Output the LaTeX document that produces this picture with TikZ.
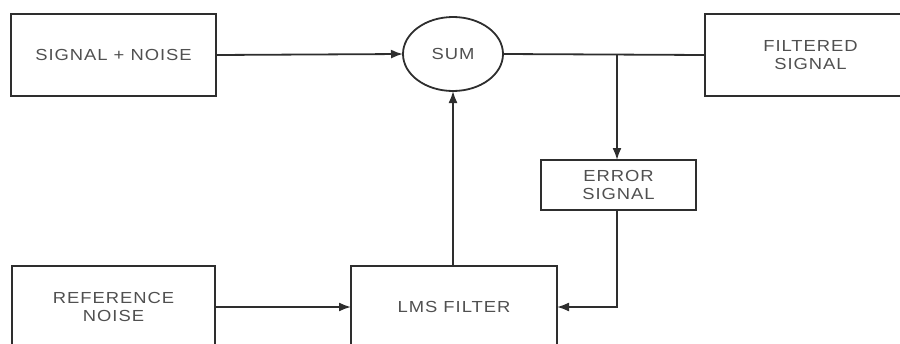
\documentclass[tikz,border=0pt]{standalone}
\usepackage{fontspec}
\setmainfont{Liberation Sans}[LetterSpace=6,FakeStretch=1.15]
\usetikzlibrary{arrows.meta,shapes.geometric}
\definecolor{linec}{HTML}{2E2E2E}
\definecolor{textc}{HTML}{505050}
\tikzset{
  blk/.style={draw=linec,line width=2pt,rectangle,inner sep=0pt,outer sep=0pt,
    text=textc,align=center,font=\fontsize{16}{18.5}\selectfont},
  oval/.style={draw=linec,line width=1.8pt,ellipse,inner sep=0pt,outer sep=0pt,
    minimum width=100pt,minimum height=74pt,text=textc,font=\fontsize{16}{18.5}\selectfont},
  conn/.style={draw=linec,line width=1.8pt},
  arr/.style={conn,-{Latex[length=12pt,width=9pt]}}
}
\begin{document}
\begin{tikzpicture}[x=1pt,y=-1pt]
\clip (0,0) rectangle (900,343);
\useasboundingbox (0,0) rectangle (900,343);
\node[blk,minimum width=205pt,minimum height=82pt] (sn) at (113.5,55) {SIGNAL + NOISE};
\node[oval] (sum) at (453,54) {SUM};
\node[blk,minimum width=211pt,minimum height=82pt] (fs) at (810.5,55) {FILTERED\\SIGNAL};
\node[blk,minimum width=155pt,minimum height=50pt] (err) at (618.5,185) {ERROR\\SIGNAL};
\node[blk,minimum width=203pt,minimum height=82pt] (ref) at (113.5,307) {REFERENCE\\NOISE};
\node[blk,minimum width=206pt,minimum height=82pt] (lms) at (454,307) {LMS FILTER};
\coordinate (j) at (617,55);
\coordinate (k) at (617,210);
\draw[arr] (sn.east) -- (sum.west);
\draw[conn] (sum.east) -- (fs.west);
\draw[arr] (j) -- (j |- err.north);
\draw[arr] (k) |- (lms.east);
\draw[arr] (ref.east) -- (lms.west);
\draw[arr] (lms.north -| sum.south) -- (sum.south);
\end{tikzpicture}
\end{document}
